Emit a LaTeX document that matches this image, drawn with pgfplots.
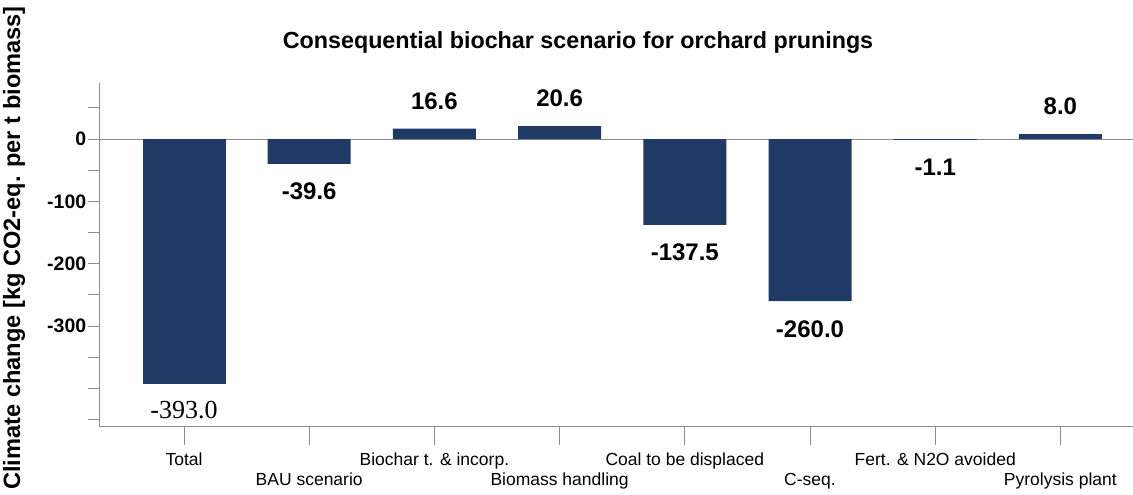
\documentclass[border=0pt]{standalone}
\usepackage{pgfplots}
\pgfplotsset{compat=1.18}
\usepackage{fontspec}
\setmainfont{Liberation Sans}
\newfontfamily\serifnum{Liberation Serif}
\definecolor{barblue}{RGB}{31,58,101}
\definecolor{axgray}{RGB}{140,140,140}
\begin{document}
\begin{tikzpicture}
\begin{axis}[
  at={(0,0)}, anchor=south west,
  scale only axis, width=1033pt, height=344pt,
  xmin=-0.671, xmax=7.58, ymin=-462, ymax=90,
  axis x line*=bottom, axis y line*=left,
  axis line style={axgray, line width=1pt},
  every tick/.style={axgray, line width=1pt},
  tick align=outside,
  xtick={0,...,7},
  xtick style={/pgfplots/major tick length=18pt},
  ytick style={/pgfplots/major tick length=12pt},
  xticklabels={\strut Total,\strut\\BAU scenario,\strut Biochar t. \& incorp.,\strut\\Biomass handling,\strut Coal to be displaced,\strut\\C-seq.,\strut Fert. \& N2O avoided,\strut\\Pyrolysis plant},
  xticklabel style={font=\fontsize{17.5}{20}\selectfont, align=center, anchor=north, yshift=-17pt},
  ytick={-450,-400,...,50},
  yticklabels={,,,-300,,-200,,-100,,0,},
  yticklabel style={font=\bfseries\fontsize{19.5}{19.5}\selectfont, anchor=east, xshift=-6pt},
  extra y ticks={0}, extra y tick labels={},
  extra y tick style={grid=major, major grid style={axgray, line width=1pt}},
  ybar, bar width=0.663, bar shift=0pt,
  /pgf/number format/assume math mode=true,
  nodes near coords={\pgfmathprintnumber[fixed,fixed zerofill,precision=1]{\pgfplotspointmeta}},
  nodes near coords align={vertical},
  every node near coord/.append style={font=\bfseries\fontsize{24}{24}\selectfont, inner ysep=19pt, black},
  clip=false,
]
\addplot[fill=barblue, draw=none, every node near coord/.append style={font=\serifnum\fontsize{26}{26}\selectfont, inner ysep=17pt}] coordinates {(0,-393.0)};
\addplot[fill=barblue, draw=none] coordinates {(1,-39.6) (2,16.6) (3,20.6) (4,-137.5) (5,-260.0) (6,-1.1) (7,8.0)};
\end{axis}
\node[font=\bfseries\fontsize{23.3}{23.3}\selectfont] at (478pt,384pt) {Consequential biochar scenario for orchard prunings};
\node[font=\bfseries\fontsize{23.6}{23.6}\selectfont, rotate=90] at (-86pt,179pt) {Climate change [kg CO2-eq. per t biomass]};
\pgfresetboundingbox
\useasboundingbox (-100pt,-68pt) rectangle (1033pt,427pt);
\end{tikzpicture}
\end{document}
